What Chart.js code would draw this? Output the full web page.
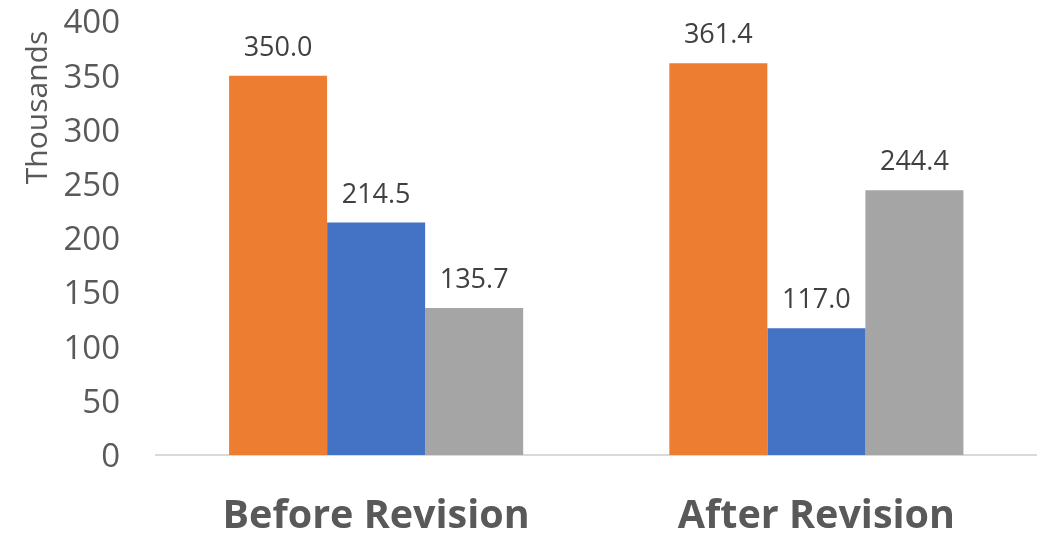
<!DOCTYPE html>
<html>
<head>
<meta charset="utf-8">
<script src="https://cdn.jsdelivr.net/npm/chart.js@4/dist/chart.umd.min.js"></script>
<style>
  html, body { margin: 0; padding: 0; background: #ffffff; }
  #wrap { width: 1038px; height: 541px; }
</style>
</head>
<body>
<div id="wrap"><canvas id="c" width="1038" height="541"></canvas></div>
<script>
// Categories and series values (in thousands)
const categories = ['Before Revision', 'After Revision'];
const seriesA = [350.0, 361.4];
const seriesB = [214.5, 117.0];
const seriesC = [135.7, 244.4];

// Value axis range
const yMin = 0;
const yMax = 400;
const yStep = 50;
const yTitle = 'Thousands';

const FONT = "'Open Sans', 'DejaVu Sans', sans-serif";

// Value labels above each bar
const valueLabels = {
  id: 'valueLabels',
  afterDatasetsDraw(chart) {
    const ctx = chart.ctx;
    ctx.save();
    ctx.font = '27px ' + FONT;
    ctx.fillStyle = '#404040';
    ctx.textAlign = 'center';
    ctx.textBaseline = 'alphabetic';
    chart.data.datasets.forEach((ds, i) => {
      chart.getDatasetMeta(i).data.forEach((bar, j) => {
        ctx.fillText(ds.data[j].toFixed(1), bar.x, bar.y - 20);
      });
    });
    ctx.restore();
  }
};

// Rotated axis title placed near the top of the value axis
const axisTitle = {
  id: 'axisTitle',
  afterDraw(chart) {
    const ctx = chart.ctx;
    ctx.save();
    ctx.translate(47, 107.5);
    ctx.rotate(-Math.PI / 2);
    ctx.font = '30px ' + FONT;
    ctx.fillStyle = '#595959';
    ctx.textAlign = 'center';
    ctx.textBaseline = 'alphabetic';
    ctx.fillText(yTitle, 0, 0);
    ctx.restore();
  }
};

new Chart(document.getElementById('c'), {
  type: 'bar',
  data: {
    labels: categories,
    datasets: [
      { label: 'A', data: seriesA, backgroundColor: '#ED7D31' },
      { label: 'B', data: seriesB, backgroundColor: '#4472C4' },
      { label: 'C', data: seriesC, backgroundColor: '#A5A5A5' }
    ]
  },
  options: {
    responsive: false,
    animation: false,
    devicePixelRatio: 1,
    layout: { padding: { top: 21.5, right: 1.5, bottom: 0, left: 0 } },
    datasets: {
      bar: { categoryPercentage: 0.668, barPercentage: 1.0, borderWidth: 0 }
    },
    plugins: {
      legend: { display: false },
      tooltip: { enabled: false },
      title: { display: false }
    },
    scales: {
      x: {
        grid: { display: false, drawTicks: false },
        border: { display: true, color: '#D9D9D9', width: 2 },
        ticks: {
          padding: 38,
          color: '#595959',
          font: { family: FONT, size: 39.5, weight: 'bold' },
          maxRotation: 0
        },
        afterFit(scale) {
          scale.height = 86;
          scale.paddingLeft = 0;
          scale.paddingRight = 0;
        }
      },
      y: {
        min: yMin,
        max: yMax,
        grid: { display: false, drawTicks: false },
        border: { display: false },
        ticks: {
          stepSize: yStep,
          padding: 36,
          labelOffset: 2.5,
          color: '#595959',
          font: { family: FONT, size: 33 }
        },
        afterFit(scale) {
          scale.width = 156;
          scale.paddingTop = 0;
          scale.paddingBottom = 0;
        }
      }
    }
  },
  plugins: [valueLabels, axisTitle]
});
</script>
</body>
</html>
